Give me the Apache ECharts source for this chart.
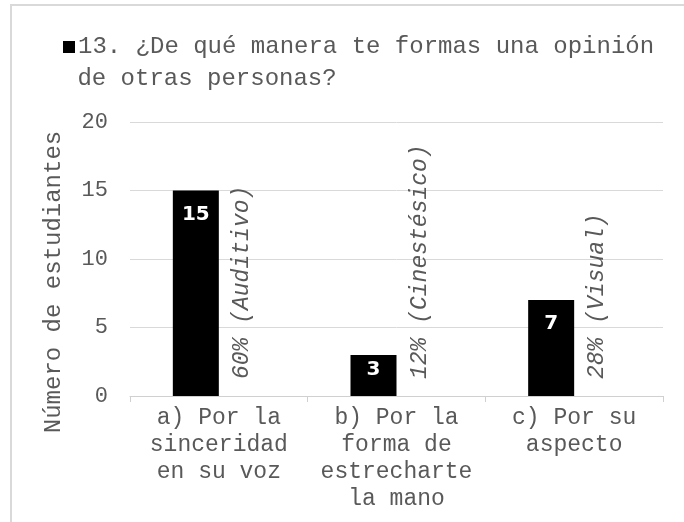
<!DOCTYPE html>
<html>
<head>
<meta charset="utf-8">
<script src="https://cdn.jsdelivr.net/npm/echarts@6/dist/echarts.min.js"></script>
<style>
  html, body { margin: 0; padding: 0; background: #fff; }
  #chart { width: 684px; height: 522px; }
</style>
</head>
<body>
<div id="chart"></div>
<script>
// data
const categories = [
  'a) Por la\nsinceridad\nen su voz',
  'b) Por la\nforma de\nestrecharte\nla mano',
  'c) Por su\naspecto'
];
const students = [15, 3, 7];
const shares = ['60%', '12%', '28%'];
const styles = ['Auditivo', 'Cinestésico', 'Visual'];
const yTicks = [0, 5, 10, 15, 20];

const mono = '"Liberation Mono", "Courier New", monospace';
const grey = '#595959';

const chart = echarts.init(document.getElementById('chart'));

chart.setOption({
  animation: false,
  textStyle: { fontFamily: mono, color: grey },
  graphic: [{
    type: 'rect',
    z: -10,
    shape: { x: 11, y: 5, width: 700, height: 600 },
    style: { fill: 'none', stroke: '#d9d9d9', lineWidth: 2 }
  }],
  title: {
    left: 58,
    top: 26,
    text: '{sq|}{gap|}{t|13. ¿De qué manera te formas una opinión}\n{t| de otras personas?}',
    textStyle: {
      fontWeight: 'normal',
      rich: {
        sq: { width: 12, height: 12, backgroundColor: '#000' },
        gap: { width: 3 },
        t: { fontFamily: mono, fontSize: 24, fontWeight: 'normal', color: grey, lineHeight: 32 }
      }
    }
  },
  grid: { left: 130, right: 21, top: 122, bottom: 126 },
  xAxis: {
    type: 'category',
    data: categories,
    axisLine: { lineStyle: { color: '#d0d0d0', width: 1 } },
    axisTick: { show: true, length: 6, lineStyle: { color: '#d0d0d0' } },
    axisLabel: {
      interval: 0,
      margin: 8,
      fontFamily: mono,
      fontSize: 23,
      lineHeight: 27,
      color: grey
    }
  },
  yAxis: {
    type: 'value',
    min: yTicks[0],
    max: yTicks[yTicks.length - 1],
    interval: yTicks[1] - yTicks[0],
    name: 'Número de estudiantes',
    nameLocation: 'middle',
    nameGap: 64,
    nameTextStyle: {
      fontFamily: mono,
      fontSize: 24,
      color: grey,
      // nudge the rotated title down like the original
      padding: [0, 46, 0, 0]
    },
    axisLine: { show: false },
    axisTick: { show: false },
    axisLabel: { margin: 22, fontFamily: mono, fontSize: 22, color: grey },
    splitLine: { lineStyle: { color: '#d9d9d9', width: 1 } }
  },
  series: [
    {
      name: '13. ¿De qué manera te formas una opinión de otras personas?',
      type: 'bar',
      barWidth: 46,
      barGap: '0%',
      itemStyle: { color: '#000' },
      data: students.map(v => ({
        value: v,
        // short bars: Excel pulls the label closer to the top edge
        label: { distance: v < 5 ? 5 : 14 }
      })),
      label: {
        show: true,
        position: 'insideTop',
        color: '#fff',
        fontFamily: '"DejaVu Sans", Verdana, sans-serif',
        fontWeight: 'bold',
        fontSize: 20
      }
    },
    {
      name: 'porcentaje',
      type: 'bar',
      barWidth: 46,
      itemStyle: { color: 'rgba(0,0,0,0)' },
      data: students,
      label: {
        show: true,
        position: 'insideBottom',
        distance: 17,
        rotate: 90,
        align: 'left',
        verticalAlign: 'middle',
        fontFamily: mono,
        fontStyle: 'italic',
        fontSize: 23,
        color: grey,
        formatter: p => shares[p.dataIndex] + ' (' + styles[p.dataIndex] + ')'
      }
    }
  ]
});
</script>
</body>
</html>
